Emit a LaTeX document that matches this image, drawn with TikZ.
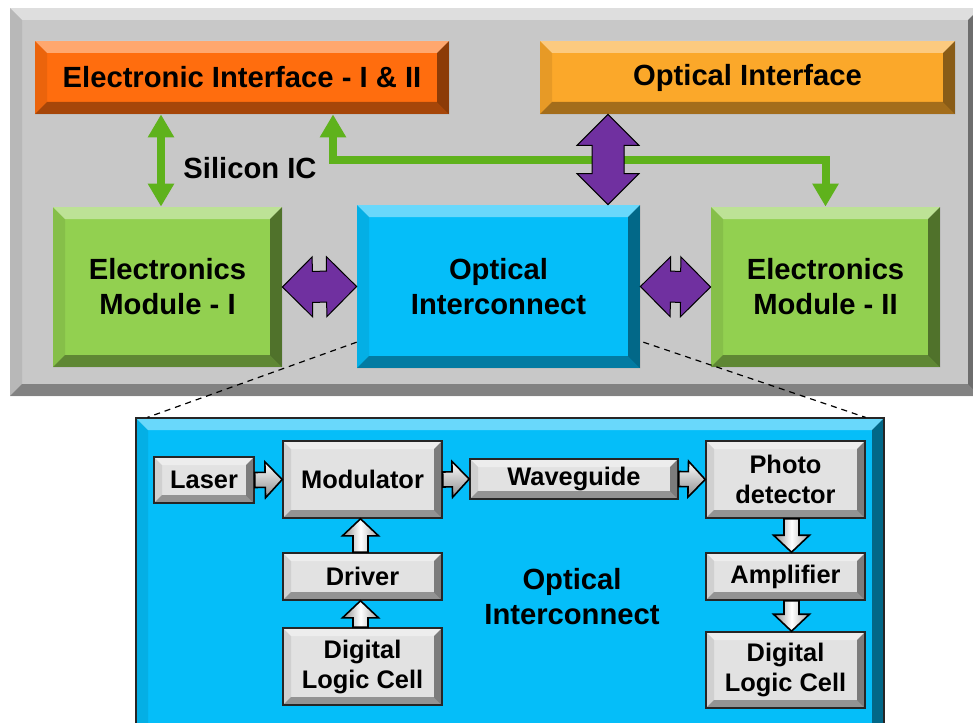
\documentclass[tikz,border=0pt]{standalone}
\usepackage{fontspec}
\setmainfont{Liberation Sans}
\usetikzlibrary{calc,arrows.meta}

\definecolor{panelgray}{HTML}{C8C8C8}
\definecolor{elorange}{HTML}{FF6D0E}
\definecolor{optorange}{HTML}{FBA82A}
\definecolor{modgreen}{HTML}{92D050}
\definecolor{icblue}{HTML}{05BEF9}
\definecolor{bipurple}{HTML}{7030A0}
\definecolor{busgreen}{HTML}{5FB21C}
\definecolor{cellgray}{HTML}{E2E2E2}

\newcommand\bigfont{\fontsize{14.6}{17.5}\selectfont\bfseries}
\newcommand\smallfont{\fontsize{12.7}{15}\selectfont\bfseries}

% raised edge drawn inside a node
\tikzset{
  bevel/.style={path picture={
    \coordinate (bvA) at (path picture bounding box.north west);
    \coordinate (bvB) at (path picture bounding box.south east);
    \coordinate (bvC) at (bvB |- bvA);
    \coordinate (bvD) at (bvA |- bvB);
    \fill[white,fill opacity=.4] (bvA) -- (bvC) -- ([shift={(-#1,-#1)}]bvC) -- ([shift={(#1,-#1)}]bvA) -- cycle;
    \fill[black,fill opacity=.08] (bvA) -- ([shift={(#1,-#1)}]bvA) -- ([shift={(#1,#1)}]bvD) -- (bvD) -- cycle;
    \fill[black,fill opacity=.35] (bvD) -- ([shift={(#1,#1)}]bvD) -- ([shift={(-#1,#1)}]bvB) -- (bvB) -- cycle;
    \fill[black,fill opacity=.45] (bvC) -- (bvB) -- ([shift={(-#1,#1)}]bvB) -- ([shift={(-#1,-#1)}]bvC) -- cycle;
  }},
}

% block arrow with one head
\newcommand\blkarrow[3][]{%
  \path (#2) coordinate (baS) (#3) coordinate (baE);
  \coordinate (baH) at ($(baE)!8.5pt!(baS)$);
  \draw[#1] ($(baS)!3.75pt!90:(baE)$) -- ($(baH)!3.75pt!90:(baE)$) -- ($(baH)!9pt!90:(baE)$)
    -- (baE) -- ($(baH)!9pt!-90:(baE)$) -- ($(baH)!3.75pt!-90:(baE)$) -- ($(baS)!3.75pt!-90:(baE)$) -- cycle;}

% block arrow with two heads: head length, head half width, shaft half width
\newcommand\dblarrow[6][]{%
  \path (#2) coordinate (daS) (#3) coordinate (daE);
  \coordinate (daT) at ($(daS)!#4!(daE)$);
  \coordinate (daH) at ($(daE)!#4!(daS)$);
  \draw[#1] (daS) -- ($(daT)!#5!-90:(daE)$) -- ($(daT)!#6!-90:(daE)$) -- ($(daH)!#6!-90:(daE)$)
    -- ($(daH)!#5!-90:(daE)$) -- (daE) -- ($(daH)!#5!90:(daE)$) -- ($(daH)!#6!90:(daE)$)
    -- ($(daT)!#6!90:(daE)$) -- ($(daT)!#5!90:(daE)$) -- cycle;}

\begin{document}
\begin{tikzpicture}[x=0.5pt,y=-0.5pt,
  box/.style={rectangle,inner sep=0pt,align=center,font=\bigfont},
  cell/.style={box,draw=black!85,line width=0.8pt,fill=cellgray,bevel=4pt,font=\smallfont},
  busline/.style={busgreen,line width=4pt,{Triangle[length=11.5pt,width=12.5pt]}-{Triangle[length=11.5pt,width=12.5pt]}},
  biarrow/.style={fill=bipurple,draw=black,line width=0.5pt},
  hflow/.style={draw=black,line width=0.8pt,top color=white,bottom color=black!45},
  vflow/.style={draw=black,line width=0.8pt,left color=black!45,right color=black!35,middle color=white},
  zoomline/.style={black,line width=0.6pt,dash pattern=on 3pt off 2.5pt}]
\useasboundingbox (0,0) rectangle (973,722);
\clip (0,0) rectangle (973,722);

% silicon IC
\node[box,fill=panelgray,bevel=6pt,minimum width=485pt,minimum height=194pt] (chip) at (495,202) {};
\node[box,fill=elorange,bevel=6pt,minimum width=207pt,minimum height=36.5pt] (elI) at (242,77.5) {Electronic Interface - I \& II};
\node[box,fill=optorange,bevel=6pt,minimum width=207.5pt,minimum height=36.5pt] (optI) at (747.5,77.5) {Optical Interface};
\node[box,fill=modgreen,bevel=6pt,minimum width=114.5pt,minimum height=80pt] (modI) at (167.5,287) {Electronics\\Module - I};
\node[box,fill=icblue,bevel=6pt,minimum width=141.5pt,minimum height=81.5pt] (optic) at (498.5,286.5) {Optical\\Interconnect};
\node[box,fill=modgreen,bevel=6pt,minimum width=114.5pt,minimum height=80pt] (modII) at (825.5,287) {Electronics\\Module - II};
\node[box] (silicon) at (250,168) {Silicon IC};

\coordinate (gleft) at (161,0);
\coordinate (gbus) at (0,160);
\coordinate (pv) at (608,0);
\draw[busline] (gleft |- elI.south) -- (gleft |- modI.north);
\draw[busline] ([xshift=45.5pt]elI.south) |- (gbus -| modII.north) -- (modII.north);
\dblarrow[biarrow]{pv |- optI.south}{pv |- optic.north}{15.5pt}{15.5pt}{8pt}
\dblarrow[biarrow]{modI.east}{optic.west}{15pt}{15pt}{7.75pt}
\dblarrow[biarrow]{optic.east}{modII.west}{15pt}{15pt}{7.75pt}

% close-up of the interconnect
\node[box,fill=icblue,draw=black!85,line width=0.6pt,bevel=6pt,minimum width=374pt,minimum height=158.5pt] (icpanel) at (510,576.5) {};
\draw[zoomline] ($(optic.south west)!0.16!(optic.north west)$) -- ([xshift=6pt]icpanel.north west);
\draw[zoomline] ([xshift=1.5pt]$(optic.south east)!0.16!(optic.north east)$) -- ([xshift=-9.5pt]icpanel.north east);

\node[cell,minimum width=50pt,minimum height=23pt] (laser) at (204,480) {Laser};
\node[cell,minimum width=79.5pt,minimum height=38.5pt] (modu) at (362.5,479.5) {Modulator};
\node[cell,minimum width=104pt,minimum height=20pt] (wave) at (574,479) {Waveguide};
\node[cell,minimum width=79.5pt,minimum height=38.5pt] (photo) at (785.5,479.5) {Photo\\detector};
\node[cell,minimum width=79.5pt,minimum height=23.5pt] (driver) at (362.5,576.5) {Driver};
\node[cell,minimum width=79.5pt,minimum height=38.5pt] (logicL) at (362.5,666.5) {Digital\\Logic Cell};
\node[cell,minimum width=79.5pt,minimum height=23.5pt] (amp) at (785.5,576.5) {Amplifier};
\node[cell,minimum width=79.5pt,minimum height=38pt] (logicR) at (785.5,670) {Digital\\Logic Cell};
\node[box] (iclabel) at (572,597) {Optical\\Interconnect};

\blkarrow[hflow]{laser.east}{modu.west}
\blkarrow[hflow]{modu.east}{wave.west}
\blkarrow[hflow]{wave.east}{photo.west}
\blkarrow[vflow]{[xshift=-1pt]driver.north}{[xshift=-1pt]modu.south}
\blkarrow[vflow]{[xshift=-1pt]logicL.north}{[xshift=-1pt]driver.south}
\blkarrow[vflow]{[xshift=3pt]photo.south}{[xshift=3pt]amp.north}
\blkarrow[vflow]{[xshift=3pt]amp.south}{[xshift=3pt]logicR.north}
\end{tikzpicture}
\end{document}
